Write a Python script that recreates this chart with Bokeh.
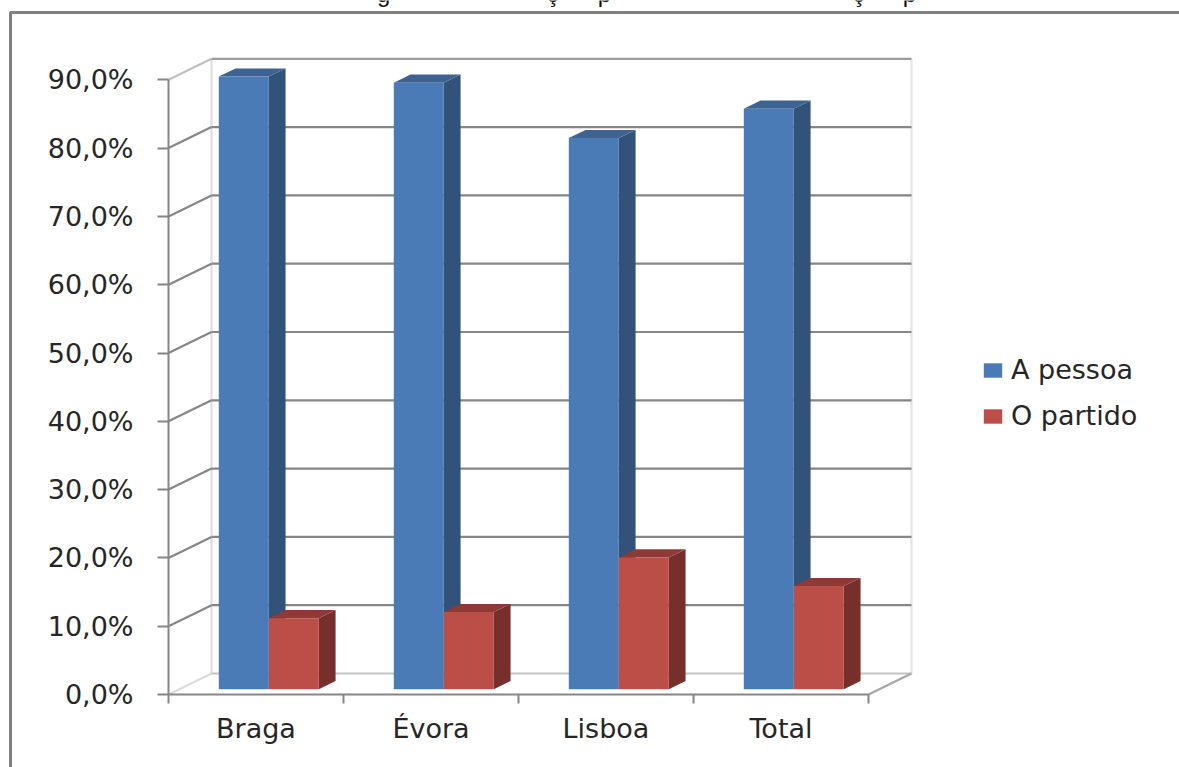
from bokeh.embed import file_html
from bokeh.resources import INLINE
from bokeh.core.properties import value
from bokeh.models import (BoxAnnotation, FixedTicker, Legend, LegendItem, Range1d)
from bokeh.plotting import figure

# Survey shares by district, in percent
categories = ["Braga", "Évora", "Lisboa", "Total"]
a_pessoa = [89.7, 88.8, 80.7, 85.0]
o_partido = [10.4, 11.3, 19.3, 15.1]
y_ticks = [0, 10, 20, 30, 40, 50, 60, 70, 80, 90]
y_tick_labels = ["0,0%", "10,0%", "20,0%", "30,0%", "40,0%", "50,0%", "60,0%", "70,0%", "80,0%", "90,0%"]
heading_letters = ["g", "ç", "p", "ç", "p"]
heading_x = [1.229, 2.194, 2.491, 3.943, 4.234]

# Page layout
WIDTH, HEIGHT = 1179, 767
LEFT, BASE = 168, 694
PX_PER_CAT = 175.0
PX_PER_PCT = 6.83

# Oblique projection: depth t in 0..1 runs from the front plane to the back wall
DX = 43.0 / PX_PER_CAT
DY = 21.0 / PX_PER_PCT
BAR_FRONT, BAR_BACK = 0.25, 0.64
BAR_OFFSET, BAR_W = 0.226, 0.2857

GRID = "#868686"
FONT = "DejaVu Sans"
TEXT = "#262626"
BLUE = ("#4a7bb6", "#335279", "#3e6291")
RED = ("#bb4f48", "#772f2b", "#8f3a36")


def pt(x, v, t=0.0):
    return x + DX * t, v + DY * t


def seg(x0, v0, t0, x1, v1, t1):
    a, b = pt(x0, v0, t0), pt(x1, v1, t1)
    return [a[0], b[0]], [a[1], b[1]]


# The plot area fills the page; the axes are pinned to the zero lines inside it
p = figure(width=WIDTH, height=HEIGHT, output_backend="svg", toolbar_location=None,
           x_range=Range1d(-LEFT / PX_PER_CAT, (WIDTH - LEFT) / PX_PER_CAT),
           y_range=Range1d((BASE - HEIGHT) / PX_PER_PCT, BASE / PX_PER_PCT),
           min_border=0, outline_line_color=None,
           background_fill_color="white", border_fill_color="white")
p.grid.visible = False

n = len(categories)
top_v = y_ticks[-1]

# Walls: back and right edges, floor, then the gridlines on both walls
light = [
    (seg(0, 0, 1, 0, top_v, 1), "#dedede"),
    (seg(n, 0, 1, n, top_v, 1), "#e6e6e6"),
    (seg(0, 0, 0, 0, 0, 1), "#dcdcdc"),
    (seg(0, 0, 1, n, 0, 1), "#c4c4c4"),
    (seg(n, 0, 0, n, 0, 1), "#a6a6a6"),
    (seg(0, top_v, 0, 0, top_v, 1), "#c0c0c0"),
    (seg(0, top_v, 1, n, top_v, 1), "#9c9c9c"),
]
for (xs, ys), col in light:
    p.line(xs, ys, line_color=col, line_width=2.2)
for v in y_ticks[1:-1]:
    xs, ys = seg(0, v, 1, n, v, 1)
    p.line(xs, ys, line_color=GRID, line_width=2.2)
    xs, ys = seg(0, v, 0, 0, v, 1)
    p.line(xs, ys, line_color=GRID, line_width=2.2)


def draw_bars(values, slot, colors):
    side_x, side_y, top_x, top_y = [], [], [], []
    left, right, bottom, top = [], [], [], []
    for i, val in enumerate(values):
        x0 = i + BAR_OFFSET + slot * BAR_W
        x1 = x0 + BAR_W
        corners = [(x1, 0, BAR_FRONT), (x1, 0, BAR_BACK), (x1, val, BAR_BACK), (x1, val, BAR_FRONT)]
        side_x.append([pt(*c)[0] for c in corners])
        side_y.append([pt(*c)[1] for c in corners])
        corners = [(x0, val, BAR_FRONT), (x0, val, BAR_BACK), (x1, val, BAR_BACK), (x1, val, BAR_FRONT)]
        top_x.append([pt(*c)[0] for c in corners])
        top_y.append([pt(*c)[1] for c in corners])
        l, b = pt(x0, 0, BAR_FRONT)
        r, t = pt(x1, val, BAR_FRONT)
        left.append(l), right.append(r), bottom.append(b), top.append(t)
    p.patches(side_x, side_y, fill_color=colors[1], line_color=None)
    p.patches(top_x, top_y, fill_color=colors[2], line_color=None)
    return p.quad(left=left, right=right, bottom=bottom, top=top,
                  fill_color=colors[0], line_color=None)


blue = draw_bars(a_pessoa, 0, BLUE)
red = draw_bars(o_partido, 1, RED)

# Axes: ticks sit on category boundaries, names at the category centres
yaxis = p.yaxis[0]
yaxis.fixed_location = 0
yaxis.bounds = (y_ticks[0], y_ticks[-1])
yaxis.ticker = FixedTicker(ticks=y_ticks)
yaxis.major_label_overrides = dict(zip(y_ticks, y_tick_labels))
yaxis.minor_tick_line_color = None
yaxis.major_tick_in = 0
yaxis.major_tick_out = 11
yaxis.major_tick_line_color = GRID
yaxis.major_tick_line_width = 2
yaxis.axis_line_color = GRID
yaxis.axis_line_width = 2
yaxis.major_label_standoff = 24
yaxis.major_label_text_font = FONT
yaxis.major_label_text_font_size = "27px"
yaxis.major_label_text_color = TEXT

centres = [i + 0.5 for i in range(n)]
xaxis = p.xaxis[0]
xaxis.fixed_location = 0
xaxis.bounds = (0, n)
xaxis.ticker = FixedTicker(ticks=centres, minor_ticks=list(range(n + 1)))
xaxis.major_label_overrides = dict(zip(centres, categories))
xaxis.major_tick_line_color = None
xaxis.major_tick_in = 0
xaxis.major_tick_out = 0
xaxis.minor_tick_in = 0
xaxis.minor_tick_out = 9
xaxis.minor_tick_line_color = GRID
xaxis.minor_tick_line_width = 2
xaxis.axis_line_color = GRID
xaxis.axis_line_width = 2
xaxis.major_label_standoff = 9
xaxis.major_label_text_font = FONT
xaxis.major_label_text_font_size = "27px"
xaxis.major_label_text_color = TEXT

# Heading line, of which only the descenders fall inside the page
p.text(x=heading_x, y=[(BASE + 7) / PX_PER_PCT] * len(heading_x), text=heading_letters,
       text_font=value("Liberation Sans"), text_font_size="24px", text_color="#111111",
       text_align="center", text_baseline="alphabetic")

legend = Legend(items=[LegendItem(label="A pessoa", renderers=[blue]),
                       LegendItem(label="O partido", renderers=[red])],
                location=(981, 336), orientation="vertical",
                background_fill_alpha=0, border_line_color=None, padding=0, margin=0,
                glyph_width=23, glyph_height=18, label_standoff=7, spacing=15,
                label_text_font=FONT, label_text_font_size="27px", label_text_color=TEXT)
p.add_layout(legend, "center")

# Border around the chart, running off the right and bottom of the page
p.add_layout(BoxAnnotation(left=10, right=WIDTH + 40, top=12, bottom=HEIGHT + 40,
                           left_units="canvas", right_units="canvas",
                           top_units="canvas", bottom_units="canvas",
                           fill_alpha=0, line_color="#808080", line_alpha=1, line_width=3))

open("out.html", "w").write(file_html(p, INLINE))
